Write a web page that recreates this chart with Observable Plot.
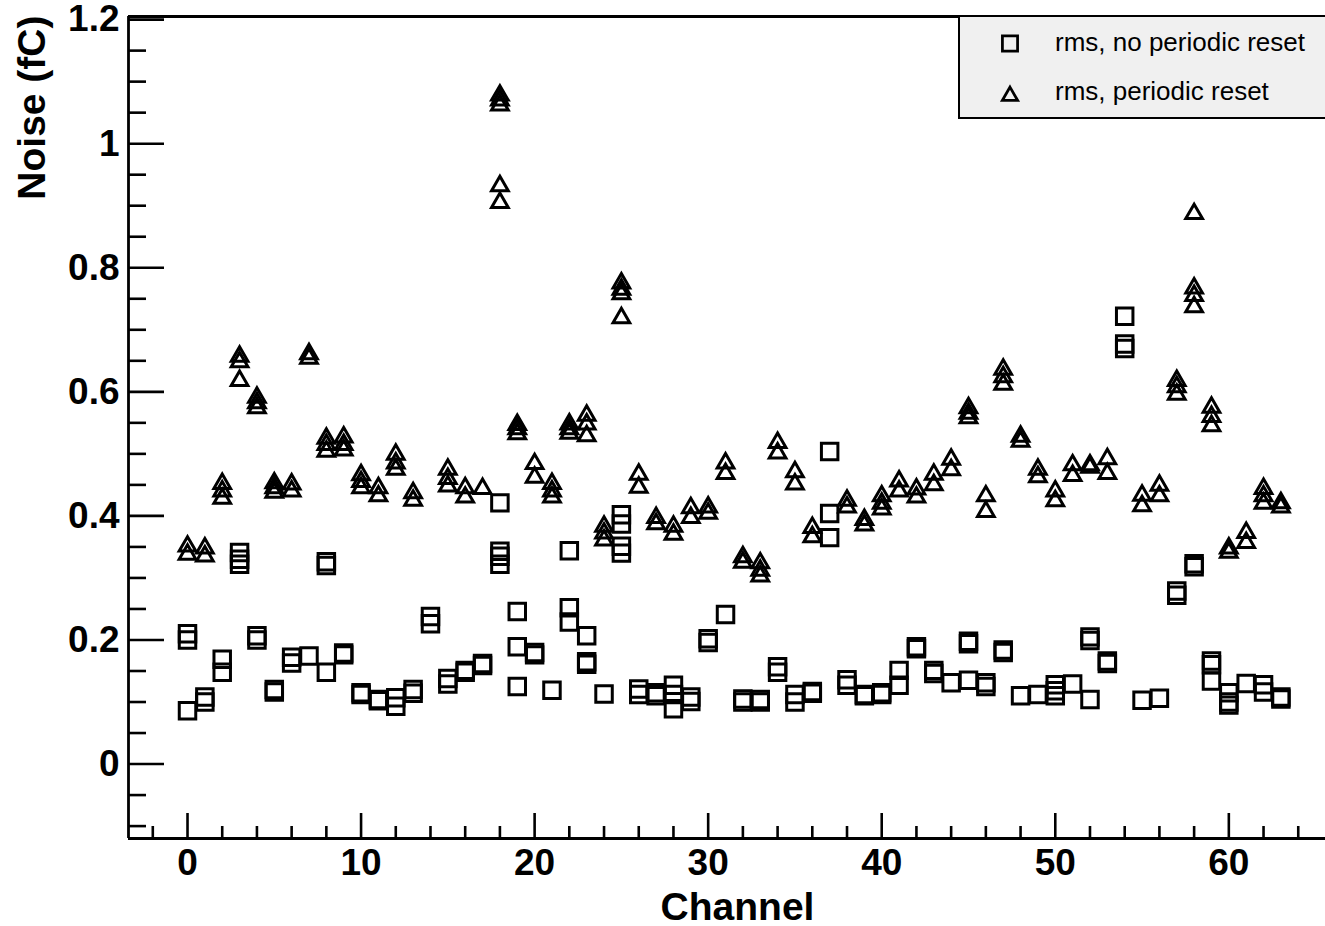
<!DOCTYPE html>
<html>
<head>
<meta charset="utf-8">
<script src="https://cdn.jsdelivr.net/npm/d3@7"></script>
<script src="https://cdn.jsdelivr.net/npm/@observablehq/plot@0.6"></script>
<style>
  body { margin: 0; background: #fff; }
  #wrap { position: relative; width: 1325px; height: 926px; overflow: hidden; background: #fff; }
  #legend { position: absolute; left: 958px; top: 15px; width: 420px; height: 104px;
            box-sizing: border-box; border: 2px solid #000; background: #f0f0f0; }
  #legend svg { position: absolute; left: -2px; top: -2px; overflow: visible; }
</style>
</head>
<body>
<div id="wrap"><div id="legend"></div></div>
<script>
// ---------- data (index in each outer array = channel number) ----------
const noResetNoise = [
  [0.21, 0.2, 0.086], [0.108, 0.1], [0.169, 0.148], [0.341, 0.33, 0.322],
  [0.207, 0.2], [0.12, 0.116], [0.172, 0.163], [0.174],
  [0.326, 0.32, 0.148], [0.179, 0.176], [0.115, 0.112], [0.104, 0.102],
  [0.107, 0.093], [0.12, 0.114], [0.238, 0.226], [0.138, 0.129],
  [0.151, 0.148], [0.162, 0.159], [0.421, 0.343, 0.335, 0.322], [0.246, 0.189, 0.125],
  [0.18, 0.176], [0.119], [0.344, 0.252, 0.229], [0.207, 0.165, 0.161],
  [0.113], [0.402, 0.387, 0.351, 0.34], [0.121, 0.112], [0.115, 0.11],
  [0.127, 0.112, 0.089], [0.108, 0.101], [0.202, 0.196], [0.241],
  [0.105, 0.1], [0.104, 0.1], [0.157, 0.148], [0.112, 0.1],
  [0.117, 0.114], [0.504, 0.404, 0.365], [0.136, 0.127], [0.112, 0.11],
  [0.115, 0.112], [0.151, 0.127], [0.189, 0.186], [0.151, 0.146],
  [0.131], [0.198, 0.194, 0.135], [0.131, 0.125], [0.184, 0.18],
  [0.11], [0.112], [0.128, 0.118, 0.11], [0.129],
  [0.205, 0.199, 0.104], [0.166, 0.162], [0.722, 0.677, 0.67], [0.103],
  [0.106], [0.279, 0.272], [0.323, 0.318], [0.166, 0.16, 0.134],
  [0.115, 0.1, 0.095], [0.13], [0.128, 0.116], [0.108, 0.105]
];
const resetNoise = [
  [0.351, 0.338], [0.348, 0.335], [0.452, 0.44, 0.428], [0.657, 0.648, 0.618],
  [0.591, 0.582, 0.574], [0.453, 0.445, 0.438], [0.451, 0.44], [0.661, 0.654],
  [0.525, 0.515, 0.504], [0.527, 0.515, 0.506], [0.466, 0.455, 0.445], [0.445, 0.432],
  [0.499, 0.485, 0.475], [0.437, 0.425], [], [0.475, 0.46, 0.448],
  [0.445, 0.43], [0.444], [1.078, 1.07, 1.062, 0.932, 0.905], [0.547, 0.54, 0.532],
  [0.484, 0.462], [0.452, 0.44, 0.43], [0.548, 0.54, 0.533], [0.562, 0.548, 0.529],
  [0.383, 0.372, 0.361], [0.775, 0.765, 0.758, 0.719], [0.467, 0.446], [0.397, 0.387],
  [0.383, 0.37], [0.413, 0.397], [0.414, 0.404], [0.485, 0.468],
  [0.334, 0.325], [0.324, 0.312, 0.303], [0.518, 0.501], [0.471, 0.451],
  [0.381, 0.366], [], [0.425, 0.414], [0.394, 0.385],
  [0.432, 0.42, 0.411], [0.456, 0.44], [0.443, 0.43], [0.467, 0.45],
  [0.491, 0.474], [0.574, 0.565, 0.558], [0.432, 0.407], [0.636, 0.624, 0.612],
  [0.528, 0.52], [0.475, 0.463], [0.44, 0.424], [0.482, 0.465],
  [0.482, 0.478], [0.492, 0.468], [], [0.433, 0.416],
  [0.449, 0.432], [0.618, 0.608, 0.596], [0.887, 0.767, 0.755, 0.737], [0.575, 0.56, 0.545],
  [0.348, 0.341], [0.373, 0.357], [0.444, 0.432, 0.42], [0.421, 0.414]
];
const seriesNames = ["rms, no periodic reset", "rms, periodic reset"];
const xMajorTicks = [0, 10, 20, 30, 40, 50, 60];
const xMinorTicks = [-2, 2, 4, 6, 8, 12, 14, 16, 18, 22, 24, 26, 28, 32, 34, 36, 38,
                     42, 44, 46, 48, 52, 54, 56, 58, 62, 64];
const yMajorTicks = [0, 0.2, 0.4, 0.6, 0.8, 1, 1.2];
const yMinorTicks = [-0.1, -0.05, 0.05, 0.1, 0.15, 0.25, 0.3, 0.35, 0.45, 0.5, 0.55,
                     0.65, 0.7, 0.75, 0.85, 0.9, 0.95, 1.05, 1.1, 1.15];
const xDomain = [-3.4, 65.57];
const yDomain = [-0.12, 1.205];
const xTitle = "Channel";
const yTitle = "Noise (fC)";

// ---------- build tables ----------
const toRows = (arr, series) => arr.flatMap((vals, ch) => vals.map(v => ({channel: ch, noise: v, series})));
const rowsNoReset = toRows(noResetNoise, seriesNames[0]);
const rowsReset = toRows(resetNoise, seriesNames[1]);

const SQ_R = 9.3, TRI_R = 6.2, MARK_SW = 3, AX_SW = 2.8;
const boldFont = {fontSize: 37, fontWeight: "bold"};

const chart = Plot.plot({
  width: 1325,
  height: 926,
  marginLeft: 128,
  marginRight: 0,
  marginTop: 16,
  marginBottom: 88,
  style: {fontFamily: "'Liberation Sans', Arial, Helvetica, sans-serif", background: "#fff", color: "#000"},
  x: {domain: xDomain, axis: null},
  y: {domain: yDomain, axis: null},
  marks: [
    // frame
    Plot.ruleY([yDomain[1]], {strokeWidth: AX_SW}),
    Plot.ruleY([yDomain[0]], {strokeWidth: AX_SW}),
    Plot.ruleX([xDomain[0]], {strokeWidth: AX_SW}),
    // inward ticks
    Plot.axisY({ticks: yMajorTicks, anchor: "left", tickSize: -36, strokeWidth: 2.6, tickFormat: () => "", label: null}),
    Plot.axisY({ticks: yMinorTicks, anchor: "left", tickSize: -18, strokeWidth: 2.6, tickFormat: () => "", label: null}),
    Plot.axisX({ticks: xMajorTicks, anchor: "bottom", tickSize: -25, strokeWidth: 2.6, tickFormat: () => "", label: null}),
    Plot.axisX({ticks: xMinorTicks, anchor: "bottom", tickSize: -12, strokeWidth: 2.6, tickFormat: () => "", label: null}),
    // tick labels
    Plot.axisY({ticks: yMajorTicks, anchor: "left", tickSize: 0, tickPadding: 9, label: null,
                tickFormat: d => String(+d.toFixed(1)), ...boldFont}),
    Plot.axisX({ticks: xMajorTicks, anchor: "bottom", tickSize: 0, tickPadding: 10, label: null,
                tickFormat: d => String(d), ...boldFont}),
    // axis titles
    Plot.text([xTitle], {text: d => d, frameAnchor: "bottom", dx: 10.5, dy: 81, fontSize: 39, fontWeight: "bold"}),
    Plot.text([yTitle], {text: d => d, frameAnchor: "top-left", rotate: -90, textAnchor: "end",
                         dx: -111, dy: -1, fontSize: 39, fontWeight: "bold"}),
    // data
    Plot.dot(rowsNoReset, {x: "channel", y: "noise", symbol: "square", r: SQ_R,
                           stroke: "#000", strokeWidth: MARK_SW, fill: "none"}),
    Plot.dot(rowsReset, {x: "channel", y: "noise", symbol: "triangle", r: TRI_R,
                         stroke: "#000", strokeWidth: MARK_SW, fill: "none"})
  ]
});
document.getElementById("wrap").prepend(chart);

// ---------- legend ----------
const sqPath = d3.symbol(d3.symbolSquare, SQ_R * SQ_R * Math.PI)();
const triPath = d3.symbol(d3.symbolTriangle, TRI_R * TRI_R * Math.PI)();
const lg = d3.select("#legend").append("svg").attr("width", 420).attr("height", 104);
const items = [
  {name: seriesNames[0], path: sqPath, cy: 28.5, base: 36},
  {name: seriesNames[1], path: triPath, cy: 81, base: 85}
];
items.forEach(it => {
  lg.append("path").attr("d", it.path)
    .attr("transform", `translate(52,${it.cy}) scale(0.92)`)
    .attr("fill", "none").attr("stroke", "#000").attr("stroke-width", MARK_SW);
  lg.append("text").attr("x", 97).attr("y", it.base).text(it.name)
    .attr("font-family", "'Liberation Sans', Arial, Helvetica, sans-serif")
    .attr("font-size", 26).attr("fill", "#000");
});
</script>
</body>
</html>
